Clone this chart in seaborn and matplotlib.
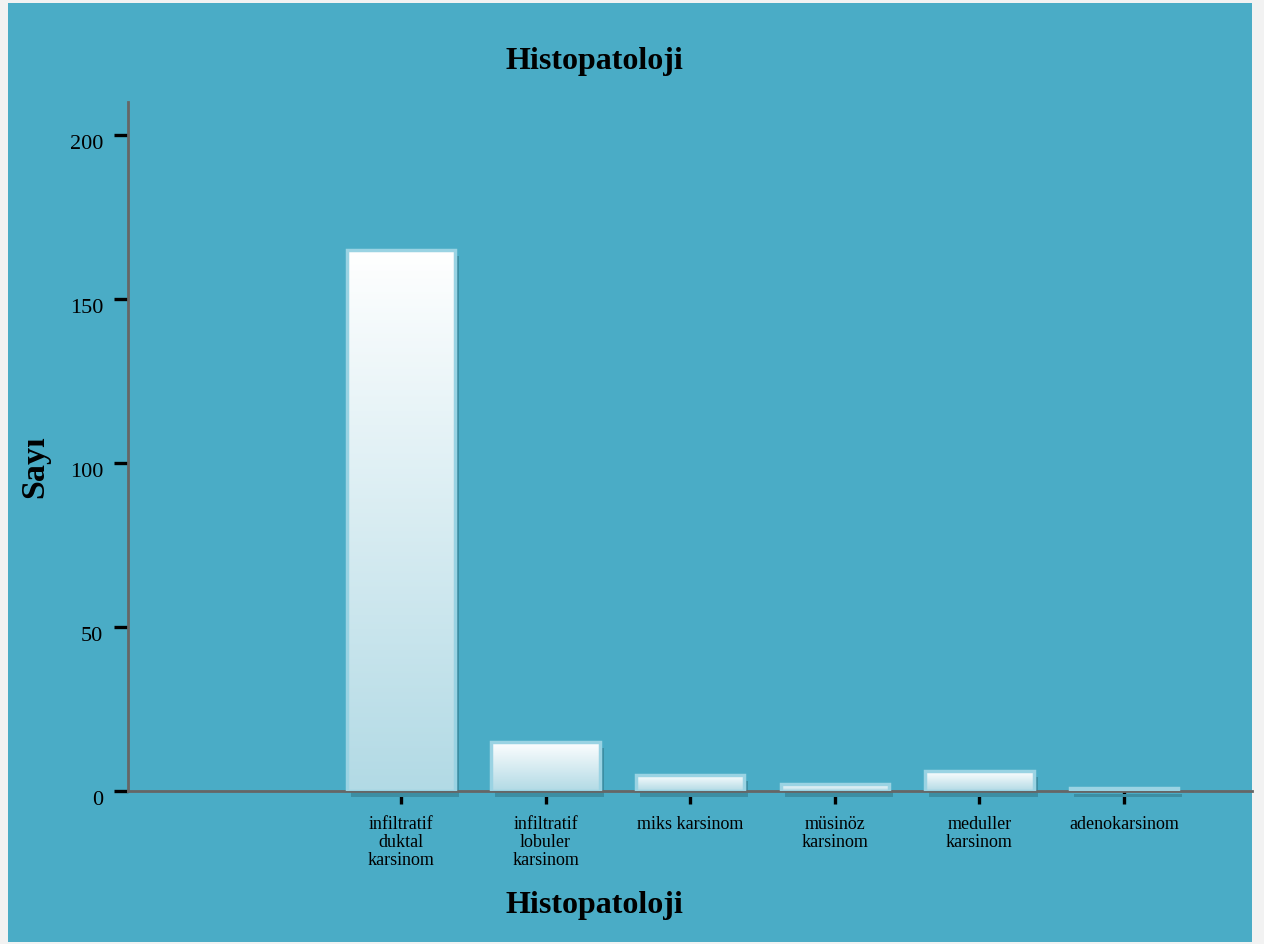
import numpy as np
import pandas as pd
import matplotlib
matplotlib.use("Agg")
import matplotlib.pyplot as plt
import matplotlib.transforms as mtransforms
from matplotlib.patches import Rectangle
from matplotlib.colors import LinearSegmentedColormap
import seaborn as sns

categories = ["infiltratif\nduktal\nkarsinom", "infiltratif\nlobuler\nkarsinom", "miks karsinom",
              "müsinöz\nkarsinom", "meduller\nkarsinom", "adenokarsinom"]
counts = [165, 15, 5, 2, 6, 1]
yticks = [0, 50, 100, 150, 200]

df = pd.DataFrame({"Histopatoloji": categories, "Sayı": counts})

sns.set_theme(style="white")
plt.rcParams["font.family"] = ["Liberation Serif", "DejaVu Serif"]
plt.rcParams["text.color"] = "black"
plt.rcParams["xtick.color"] = "black"
plt.rcParams["ytick.color"] = "black"
plt.rcParams["hatch.color"] = "#2F7387"
plt.rcParams["hatch.linewidth"] = 0.6

TEAL = "#4AACC6"
fig = plt.figure(figsize=(12.64, 9.45), dpi=100, facecolor="#F2F2F2")
fig.patches.append(Rectangle((8/1264, 2/945), 1244/1264, 939/945, transform=fig.transFigure,
                             facecolor=TEAL, edgecolor="none", zorder=-10))
ax = fig.add_axes([128/1264, 1-792/945, 1-128/1264-12/1264, (792-103)/945])
ax.set_facecolor("none")

sns.barplot(data=df, x="Histopatoloji", y="Sayı", ax=ax, width=0.75,
            color="white", edgecolor="#9AD3E3", linewidth=2.5, zorder=3)

cmap = LinearSegmentedColormap.from_list("g", ["#B2DAE5", "#FFFFFF"])
grad = np.linspace(0, 1, 256).reshape(-1, 1)
shadow_tr = ax.transData + mtransforms.ScaledTranslation(4/100, -6/100, fig.dpi_scale_trans)
for p in list(ax.patches):
    x0, y0, w, h = p.get_x(), p.get_y(), p.get_width(), p.get_height()
    sh = Rectangle((x0, y0), w, h, transform=shadow_tr, facecolor="#3C8EA3",
                   edgecolor="#3C8EA3", hatch="||||", linewidth=0, zorder=1)
    sh.set_clip_on(False)
    ax.add_patch(sh)
    p.set_facecolor("none")
    im = ax.imshow(grad, extent=[x0, x0 + w, y0, y0 + h], origin="lower", aspect="auto",
                   cmap=cmap, zorder=2.5, interpolation="bicubic")
    im.set_clip_path(p)

ax.set_xlim(-1.888, 5.885)
ax.set_ylim(0, 210)
ax.set_yticks(yticks)
sns.despine(ax=ax, top=True, right=True)
for s in ["left", "bottom"]:
    ax.spines[s].set_color("#666666")
    ax.spines[s].set_linewidth(2)
    ax.spines[s].set_zorder(2)
ax.tick_params(axis="y", direction="out", length=10, width=2.4, color="black",
               labelcolor="black", pad=8, labelsize=16, left=True)
ax.tick_params(axis="x", direction="out", length=9.5, width=2.4, color="black",
               labelcolor="black", pad=8, labelsize=13, bottom=True)
for lab in ax.get_xticklabels():
    lab.set_linespacing(1.05)
    lab.set_verticalalignment("top")
ydown = mtransforms.ScaledTranslation(0, -6/100, fig.dpi_scale_trans)
for lab in ax.get_yticklabels():
    lab.set_transform(lab.get_transform() + ydown)
ax.set_xlabel("")
ax.set_ylabel("")

fig.text(594/1264, 1-62/945, "Histopatoloji", ha="center", va="center",
         fontsize=23, fontweight="bold", color="black")
fig.text(594/1264, 1-906/945, "Histopatoloji", ha="center", va="center",
         fontsize=23, fontweight="bold", color="black")
fig.text(35/1264, 1-467/945, "Sayı", ha="center", va="center", rotation=90,
         fontsize=24.5, fontweight="bold", color="black")

fig.savefig("out.png", dpi=100, facecolor=fig.get_facecolor())
